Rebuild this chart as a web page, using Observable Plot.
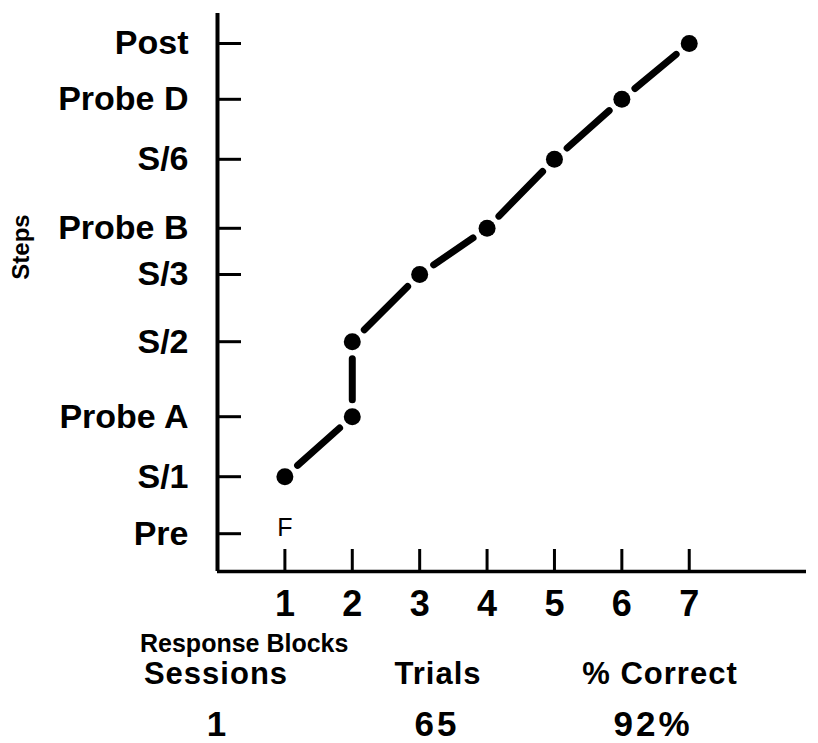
<!DOCTYPE html>
<html>
<head>
<meta charset="utf-8">
<script src="https://cdn.jsdelivr.net/npm/d3@7"></script>
<script src="https://cdn.jsdelivr.net/npm/@observablehq/plot@0.6"></script>
<style>
  html, body { margin: 0; padding: 0; background: #fff; }
  #wrap { position: relative; width: 818px; height: 743px; font-family: "Liberation Sans", Arial, sans-serif; color: #000; }
  .t { position: absolute; white-space: nowrap; font-weight: bold; line-height: 1; }
  .c { text-align: center; width: 240px; }
</style>
</head>
<body>
<div id="wrap"></div>
<script>
// Steps on the y axis (the original axis spaces them unevenly)
const steps = ["Pre", "S/1", "Probe A", "S/2", "S/3", "Probe B", "S/6", "Probe D", "Post"];
const stepLevels = [0.63, 1.58, 2.58, 3.83, 4.95, 5.72, 6.87, 7.87, 8.8];
// Response blocks on the x axis
const blockTicks = [1, 2, 3, 4, 5, 6, 7];
// Observed path: response block -> step reached
const pointBlocks = [1, 2, 2, 3, 4, 5, 6, 7];
const pointSteps = ["S/1", "Probe A", "S/2", "S/3", "Probe B", "S/6", "Probe D", "Post"];
// Annotation under the first block
const noteBlocks = [1];
const noteSteps = ["Pre"];
const noteTexts = ["F"];
// Summary table
const summaryHeaders = ["Sessions", "Trials", "% Correct"];
const summaryValues = ["1", "65", "92%"];

const level = s => stepLevels[steps.indexOf(s)];
const points = pointBlocks.map((b, i) => ({block: b, step: level(pointSteps[i])}));
const segments = points.slice(1).map((p, i) => ({x1: points[i].block, y1: points[i].step, x2: p.block, y2: p.step}));
const notes = noteBlocks.map((b, i) => ({block: b, step: level(noteSteps[i]), text: noteTexts[i]}));

const W = 818, H = 630, mL = 217, mR = 12, mT = 13, mB = 59;
const frameW = W - mL - mR, frameH = H - mT - mB;

const chart = Plot.plot({
  width: W, height: H,
  marginLeft: mL, marginRight: mR, marginTop: mT, marginBottom: mB,
  style: {fontFamily: "Liberation Sans, Arial, sans-serif", background: "#fff", color: "#000"},
  x: {domain: [0, 8.74]},
  y: {domain: [0, 9.3]},
  marks: [
    Plot.ruleX([0], {stroke: "#000", strokeWidth: 4}),
    Plot.ruleY([0], {stroke: "#000", strokeWidth: 3.5}),
    Plot.tickY(stepLevels, {y: d => d, insetRight: frameW - 24, stroke: "#000", strokeWidth: 3}),
    Plot.tickX(blockTicks, {x: d => d, insetTop: frameH - 22, stroke: "#000", strokeWidth: 3}),
    Plot.axisY({ticks: stepLevels, tickFormat: d => steps[stepLevels.indexOf(d)], tickSize: 0, tickPadding: 29,
      fontSize: 34, fontWeight: "bold", label: null, fill: "#000"}),
    Plot.axisX({ticks: blockTicks, tickFormat: d => String(d), tickSize: 0, tickPadding: 19,
      fontSize: 36, fontWeight: "bold", label: null, fill: "#000"}),
    Plot.arrow(segments, {x1: "x1", y1: "y1", x2: "x2", y2: "y2", inset: 17, headLength: 0,
      stroke: "#000", strokeWidth: 7, strokeLinecap: "round"}),
    Plot.dot(points, {x: "block", y: "step", r: 8.5, fill: "#000", stroke: null}),
    Plot.text(notes, {x: "block", y: "step", text: "text", dy: -6, fontSize: 25, fill: "#000",
      fontFamily: "Liberation Sans Narrow, Liberation Sans, sans-serif"})
  ]
});

const wrap = document.getElementById("wrap");
wrap.appendChild(chart);

function addText(txt, cls, css) {
  const d = document.createElement("div");
  d.className = cls;
  d.textContent = txt;
  Object.assign(d.style, css);
  wrap.appendChild(d);
  return d;
}
// y-axis title
addText("Steps", "t", {left: "21px", top: "247px", fontSize: "24px", transform: "translate(-50%,-50%) rotate(-90deg)"});
// x-axis title
addText("Response Blocks", "t", {left: "140px", top: "631px", fontSize: "25px"});
// summary table
const headerCenters = [216, 438, 660];
const valueCenters = [218, 437, 653];
summaryHeaders.forEach((h, i) => addText(h, "t c", {left: (headerCenters[i] - 120) + "px", top: "658px", fontSize: "31px", letterSpacing: "1px"}));
summaryValues.forEach((v, i) => addText(v, "t c", {left: (valueCenters[i] - 120) + "px", top: "706px", fontSize: "35px", letterSpacing: "3px"}));
</script>
</body>
</html>
